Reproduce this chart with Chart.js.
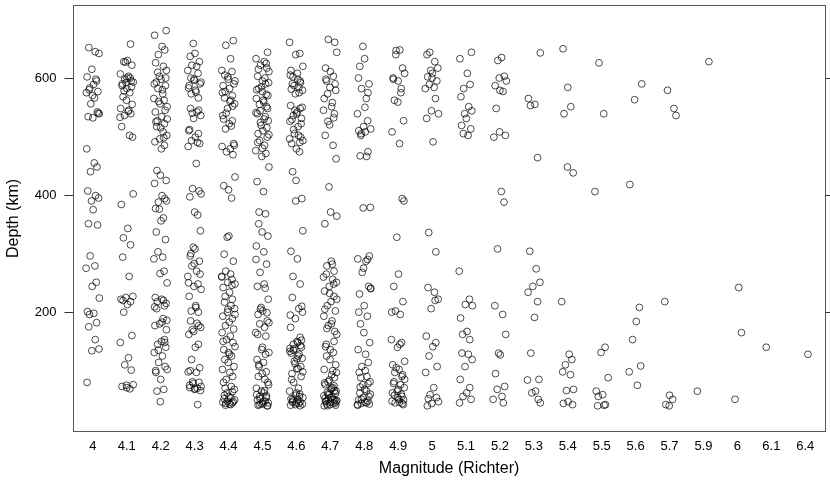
<!DOCTYPE html>
<html>
<head>
<meta charset="utf-8">
<script src="https://cdn.jsdelivr.net/npm/chart.js@4/dist/chart.umd.min.js"></script>
<style>
  html, body { margin: 0; padding: 0; background: #fff; }
  canvas { display: block; }
</style>
</head>
<body>
<canvas id="quakeChart" width="830" height="484"></canvas>
<script>
const magLabels = ['4', '4.1', '4.2', '4.3', '4.4', '4.5', '4.6', '4.7', '4.8', '4.9', '5',
                   '5.1', '5.2', '5.3', '5.4', '5.5', '5.6', '5.7', '5.9', '6', '6.1', '6.4'];

// depths (km) of every quake, one list per magnitude class
const depth40 = [652, 645, 642, 615, 602, 595, 589, 583, 577, 575, 566, 556, 542, 539, 534, 532,
  598, 580, 570, 540, 479, 455, 448, 440, 407, 399, 395, 390, 375, 351, 349,
  296, 279, 275, 251, 244, 224, 201, 198, 196, 182, 175, 153, 137, 134, 80];
const depth41 = [658, 630, 628, 622, 607, 603, 598, 595, 593, 587, 582, 575, 568, 562, 555, 548, 543,
  539, 536, 517, 502, 499, 627, 600, 590, 585, 578, 545, 533, 600, 592,
  402, 384, 343, 327, 315, 294, 261, 227, 225, 222, 218, 213, 200, 160, 148, 122, 110, 101,
  76, 73, 71, 69, 220, 75];
const depth42 = [681, 673, 654, 648, 640, 626, 620, 613, 603, 598, 593, 587, 582, 573, 565, 562, 556,
  551, 542, 534, 527, 522, 517, 508, 502, 496, 491, 485, 479, 610, 600, 590, 580, 560, 545, 530,
  525, 515, 498, 442, 434, 425, 420, 399, 394, 388, 377, 361,
  390, 376, 356, 337, 324, 303, 294, 291, 270, 266, 250, 225, 222, 218, 211, 206, 189, 186, 180,
  177, 153, 150, 145, 140, 131, 125, 114, 107, 102, 97, 85, 68, 65, 47,
  215, 209, 183, 148, 135, 100, 220, 170];
const depth43 = [659, 642, 637, 628, 622, 620, 613, 608, 598, 593, 587, 579, 573, 566, 548, 542, 536,
  531, 510, 505, 499, 493, 488, 483, 454, 411, 407, 402, 397, 371, 366,
  600, 596, 590, 583, 576, 545, 540, 512, 490,
  339, 311, 308, 296, 287, 279, 270, 261, 248, 244, 239, 227, 211, 202, 200, 185, 181, 174, 167,
  162, 145, 140, 119, 105, 98, 97, 81, 80, 73, 71, 68, 42,
  300, 283, 265, 250, 208, 177, 170, 75, 70, 66, 78, 69, 100];
const depth44 = [664, 656, 633, 613, 611, 602, 595, 587, 582, 577, 570, 566, 562, 556, 548, 536, 527,
  522, 513, 488, 483, 479, 474, 469, 431, 416, 409, 395,
  605, 598, 590, 575, 560, 552, 540, 530, 518, 485,
  328, 330, 299, 287, 270, 265, 261, 256, 251, 248, 242, 234, 227, 222, 217, 211, 206, 200, 193,
  189, 183, 177, 171, 165, 159, 153, 148, 141, 136, 131, 125, 119, 114, 107, 102, 97, 90, 85, 80,
  73, 68, 62, 56, 52, 47, 44, 42,
  260, 246, 205, 196, 150, 128, 70, 64, 58, 54, 50, 48, 46, 45, 43, 41];
const depth45 = [644, 633, 628, 622, 617, 611, 603, 595, 590, 582, 577, 570, 565, 559, 551, 544, 539,
  534, 527, 519, 510, 505, 499, 493, 485, 476, 471, 466, 448, 423, 406, 371,
  625, 615, 600, 592, 585, 580, 572, 562, 555, 548, 541, 530, 524, 515, 503, 490, 480,
  368, 351, 337, 330, 313, 303, 282, 268, 244, 241, 222, 208, 202, 196, 185, 180, 174, 165, 159,
  136, 131, 119, 114, 107, 98, 90, 85, 76, 65, 59, 54, 47, 42, 40,
  290, 248, 205, 199, 182, 162, 140, 128, 110, 95, 80, 70, 62, 57, 52, 50, 48, 45, 44, 43, 41,
  40, 56, 66];
const depth46 = [661, 642, 640, 620, 613, 608, 602, 595, 590, 584, 579, 573, 553, 548, 542, 536, 531,
  526, 517, 505, 499, 493, 488, 479, 474, 440, 425, 394,
  605, 598, 592, 587, 581, 575, 550, 545, 539, 529, 522, 512, 502, 496, 490,
  390, 339, 304, 291, 261, 248, 225, 206, 200, 189, 174, 157, 150, 145, 140, 133, 125, 116, 107,
  98, 85, 62, 56, 51, 45,
  210, 195, 148, 143, 137, 130, 128, 121, 112, 103, 95, 90, 80, 70, 65, 60, 58, 54, 52, 50, 48,
  47, 46, 44, 43, 42, 41, 40, 120, 135, 152, 138, 104];
const depth47 = [666, 661, 644, 617, 611, 603, 595, 584, 579, 565, 551, 539, 526, 502, 485, 462, 414,
  371, 598, 590, 573, 558, 545, 532, 520,
  364, 351, 287, 279, 270, 265, 256, 251, 244, 236, 227, 218, 211, 202, 193, 185, 177, 167, 162,
  141, 136, 131, 125, 119, 110, 102, 93, 88, 81, 76, 71, 65, 59, 54, 47, 44, 40,
  282, 260, 248, 232, 222, 205, 180, 172, 150, 145, 100, 97, 84, 79, 74, 68, 63, 61, 57, 55, 52,
  50, 49, 48, 46, 45, 43, 42, 41, 40, 70, 66, 60, 53, 51, 47];
const depth48 = [654, 633, 620, 590, 582, 565, 539, 527, 517, 513, 510, 508, 502, 474, 467, 466, 379,
  378, 600, 575, 550, 505,
  296, 291, 287, 268, 244, 241, 231, 211, 193, 180, 165, 148, 136, 128, 114, 107, 97, 90, 81, 76,
  68, 62, 56, 51, 45, 42,
  290, 275, 240, 200, 100, 88, 78, 72, 65, 60, 54, 50, 48, 46, 44, 43, 41];
const depth49 = [648, 647, 617, 608, 598, 595, 582, 562, 559, 527, 508, 488, 394, 640, 600, 575,
  390, 328, 265, 244, 218, 202, 196, 153, 148, 140, 116, 110, 102, 97, 90, 81, 76, 71, 65, 62, 56,
  51, 45, 42, 200, 145, 105, 93, 85, 78, 68, 60, 58, 54, 50, 48, 46, 44];
const depth50 = [644, 640, 628, 617, 613, 608, 602, 595, 589, 584, 582, 565, 544, 539, 531, 491,
  336, 303, 242, 234, 222, 206, 159, 148, 141, 125, 107, 97, 71, 59, 54, 47, 40, 600, 220, 52, 44];
const depth51 = [644, 633, 608, 589, 582, 568, 551, 544, 539, 531, 519, 513, 505, 502,
  270, 222, 213, 211, 190, 167, 162, 153, 130, 128, 119, 107, 85, 71, 62, 56, 51, 45];
const depth52 = [635, 630, 603, 595, 587, 579, 577, 548, 508, 502, 499, 406, 388,
  308, 211, 196, 162, 130, 127, 95, 73, 68, 56, 51, 45, 600];
const depth53 = [643, 565, 555, 553, 464, 304, 274, 251, 244, 234, 218, 191, 130, 85, 84, 65, 62, 51, 45];
const depth54 = [650, 584, 551, 539, 448, 438, 218, 128, 119, 110, 98, 93, 68, 66, 47, 44, 42];
const depth55 = [626, 539, 406, 140, 131, 88, 65, 59, 56, 42, 40, 41];
const depth56 = [590, 563, 418, 208, 184, 153, 108, 98, 75];
const depth57 = [579, 548, 536, 218, 58, 51, 42, 40];
const depth59 = [628, 65];
const depth60 = [242, 165, 51];
const depth61 = [140];
const depth64 = [128];

const depthsByMag = [depth40, depth41, depth42, depth43, depth44, depth45, depth46, depth47, depth48,
  depth49, depth50, depth51, depth52, depth53, depth54, depth55, depth56, depth57, depth59,
  depth60, depth61, depth64];

// horizontal spread inside a class so the stacked circles stay readable
const jitterOffsets = [-0.12, 0.07, 0.18, -0.03, -0.17, 0.11, 0.02, -0.09, 0.15, -0.19, 0.05, -0.06,
  0.13, 0.19, -0.14, 0.0, 0.09, -0.11, -0.01, 0.16, -0.18, 0.04, 0.12, -0.07, -0.15, 0.08, 0.17,
  -0.04, 0.01, -0.13, 0.14, -0.08, 0.06, -0.2, 0.1, -0.02, 0.19, -0.16, 0.03, -0.1, 0.11];

const yTicks = [200, 400, 600];

const points = [];
let k = 0;
depthsByMag.forEach((list, i) => {
  list.forEach(d => {
    points.push({ x: i + 1 + jitterOffsets[k % jitterOffsets.length], y: d });
    k++;
  });
});

const fontFamily = '"Liberation Sans", Arial, Helvetica, sans-serif';

// box around the panel plus the small ticks on its right edge
const framePlugin = {
  id: 'frame',
  afterDraw(chart) {
    const { ctx, chartArea: a, scales } = chart;
    ctx.save();
    ctx.strokeStyle = '#555';
    ctx.lineWidth = 1;
    ctx.strokeRect(Math.round(a.left) + 0.5, Math.round(a.top) + 0.5,
      Math.round(a.right - a.left) - 1, Math.round(a.bottom - a.top) - 1);
    ctx.strokeStyle = '#333';
    yTicks.forEach(v => {
      const y = Math.round(scales.y.getPixelForValue(v)) + 0.5;
      ctx.beginPath();
      ctx.moveTo(a.right, y);
      ctx.lineTo(a.right + 8, y);
      ctx.stroke();
    });
    ctx.restore();
  }
};

let quakeChart = new Chart(document.getElementById('quakeChart').getContext('2d'), {
  type: 'scatter',
  data: {
    datasets: [{
      data: points,
      pointStyle: 'circle',
      pointRadius: 3.4,
      pointHoverRadius: 3.4,
      backgroundColor: 'rgba(0,0,0,0)',
      borderColor: 'rgba(0,0,0,0.7)',
      borderWidth: 1
    }]
  },
  options: {
    responsive: false,
    animation: false,
    layout: { padding: { top: 5, right: 1, left: 0, bottom: 0 } },
    plugins: { legend: { display: false }, tooltip: { enabled: false } },
    scales: {
      x: {
        type: 'linear',
        min: 0.4,
        max: 22.6,
        afterBuildTicks: axis => { axis.ticks = magLabels.map((_, i) => ({ value: i + 1 })); },
        afterFit: s => {
          s.height = 52;
          s.paddingLeft = 0;
          s.paddingRight = 0;
        },
        ticks: {
          autoSkip: false,
          maxRotation: 0,
          padding: 7,
          color: '#000',
          font: { family: fontFamily, size: 13 },
          callback: (v, i) => magLabels[i]
        },
        grid: { display: false, drawTicks: false },
        border: { display: false },
        title: {
          display: true,
          text: 'Magnitude (Richter)',
          color: '#000',
          font: { family: fontFamily, size: 16 },
          padding: { top: 0, bottom: 6 }
        }
      },
      y: {
        min: -4.8,
        max: 724.8,
        afterBuildTicks: axis => { axis.ticks = yTicks.map(v => ({ value: v })); },
        afterFit: s => {
          s.width = 72.5;
          s.paddingTop = 0;
          s.paddingBottom = 0;
        },
        ticks: {
          padding: 8,
          color: '#000',
          font: { family: fontFamily, size: 13 }
        },
        grid: { drawOnChartArea: false, tickLength: 8, color: '#333' },
        border: { display: false },
        title: {
          display: true,
          text: 'Depth (km)',
          color: '#000',
          font: { family: fontFamily, size: 16 },
          padding: { top: 4, bottom: 0 }
        }
      }
    }
  },
  plugins: [framePlugin]
});
</script>
</body>
</html>
